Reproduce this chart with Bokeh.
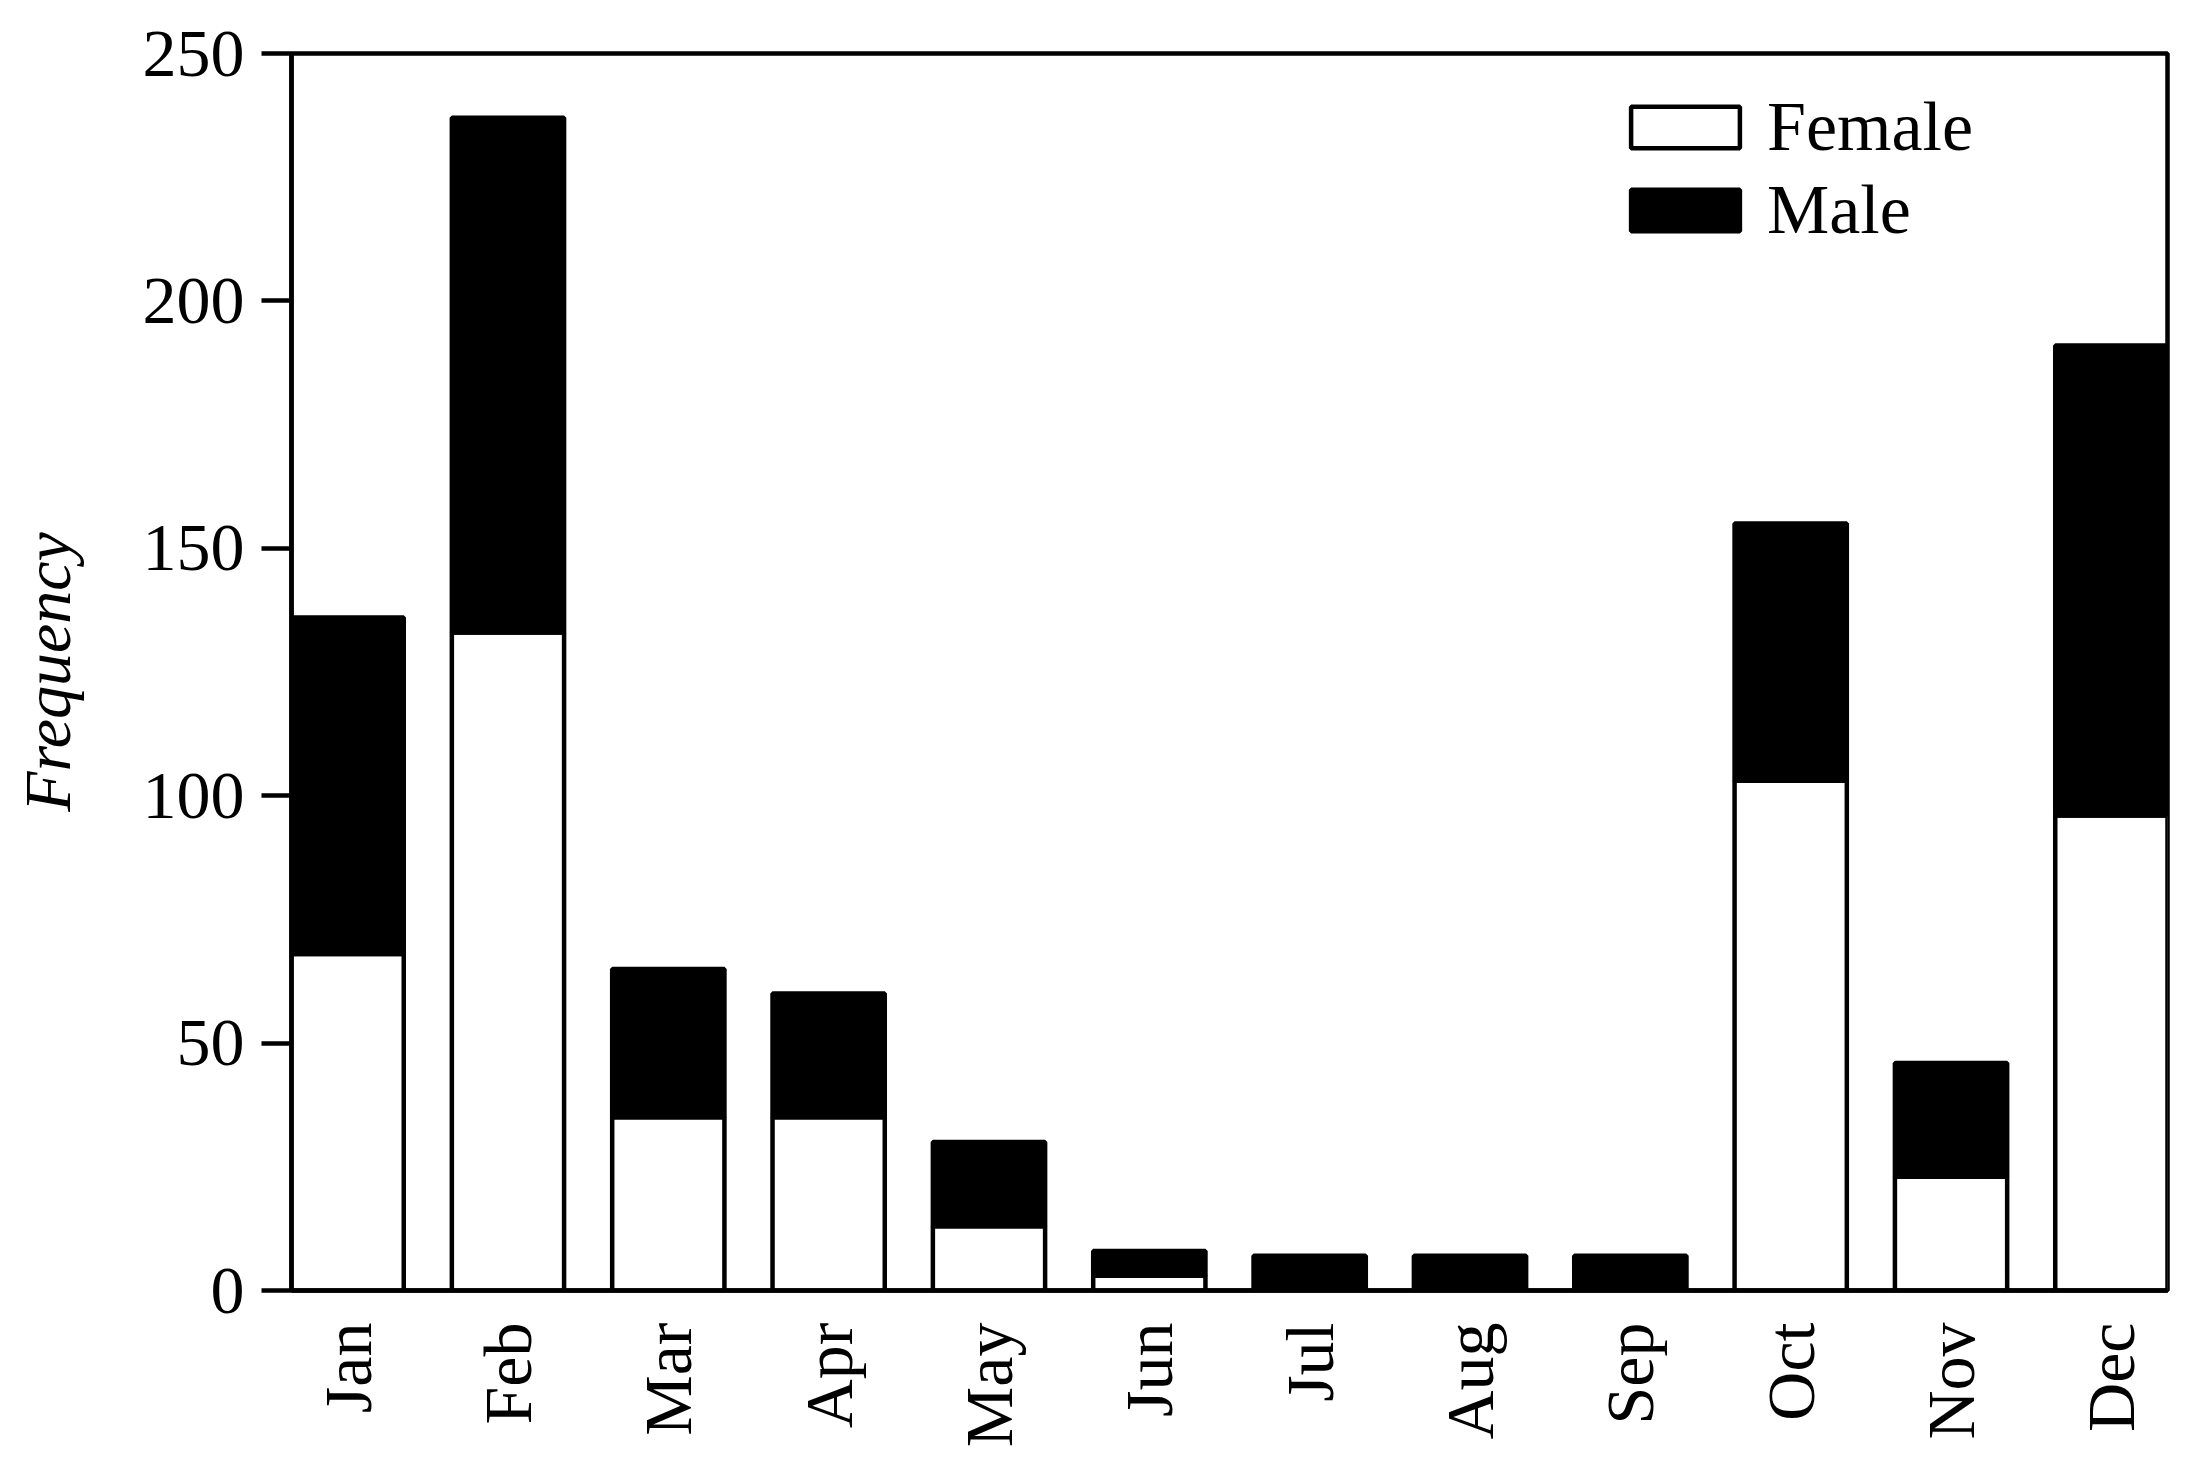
import math
from bokeh.plotting import figure
from bokeh.models import ColumnDataSource, FixedTicker, Legend, LegendItem, Range1d
from bokeh.embed import file_html
from bokeh.resources import INLINE

months = ["Jan", "Feb", "Mar", "Apr", "May", "Jun", "Jul", "Aug", "Sep", "Oct", "Nov", "Dec"]
female = [68, 133, 35, 35, 13, 3, 0, 0, 0, 103, 23, 96]
male = [68, 104, 30, 25, 17, 5, 7, 7, 7, 52, 23, 95]
y_ticks = [0, 50, 100, 150, 200, 250]

FONT = "Liberation Serif"
LW = 4.5

x = list(range(len(months)))
src = ColumnDataSource(dict(x=x, Female=female, Male=male))

p = figure(width=2178, height=1460, output_backend="svg", toolbar_location=None,
           x_range=Range1d(-0.35, len(months) - 1 + 0.35), y_range=Range1d(0, 250),
           min_border_left=291, min_border_top=53, min_border_right=11, min_border_bottom=170)

rs = p.vbar_stack(["Female", "Male"], x="x", width=0.7, source=src,
                  fill_color=["white", "black"], line_color="black", line_width=LW)

p.grid.visible = False
p.outline_line_color = "black"
p.outline_line_width = LW
p.background_fill_color = "white"
p.border_fill_color = "white"

xa = p.xaxis[0]
xa.ticker = FixedTicker(ticks=x)
xa.major_label_overrides = {i: m for i, m in enumerate(months)}
xa.major_label_orientation = math.pi / 2
xa.major_tick_line_color = None
xa.minor_tick_line_color = None
xa.axis_line_width = LW
xa.axis_line_color = "black"
xa.major_label_text_font = FONT
xa.major_label_text_font_size = "68px"
xa.major_label_text_color = "black"
xa.major_label_standoff = 26

ya = p.yaxis[0]
ya.ticker = FixedTicker(ticks=y_ticks)
ya.major_tick_out = 30
ya.major_tick_in = 0
ya.major_tick_line_width = LW
ya.minor_tick_line_color = None
ya.axis_line_width = LW
ya.axis_line_color = "black"
ya.major_label_text_font = FONT
ya.major_label_text_font_size = "68px"
ya.major_label_text_color = "black"
ya.major_label_standoff = 17
ya.axis_label = "Frequency"
ya.axis_label_text_font = FONT
ya.axis_label_text_font_style = "italic"
ya.axis_label_text_font_size = "66px"
ya.axis_label_text_color = "black"
ya.axis_label_standoff = 56

legend = Legend(items=[LegendItem(label="Female", renderers=[rs[0]]),
                       LegendItem(label="Male", renderers=[rs[1]])],
                location=(1326, 1040))
legend.glyph_width = 136
legend.glyph_height = 52
legend.label_text_font = FONT
legend.label_text_font_size = "70px"
legend.label_text_color = "black"
legend.label_standoff = 14
legend.spacing = 3
legend.padding = 0
legend.margin = 0
legend.border_line_color = None
legend.background_fill_alpha = 0
p.add_layout(legend)

open("out.html", "w").write(file_html(p, INLINE))
